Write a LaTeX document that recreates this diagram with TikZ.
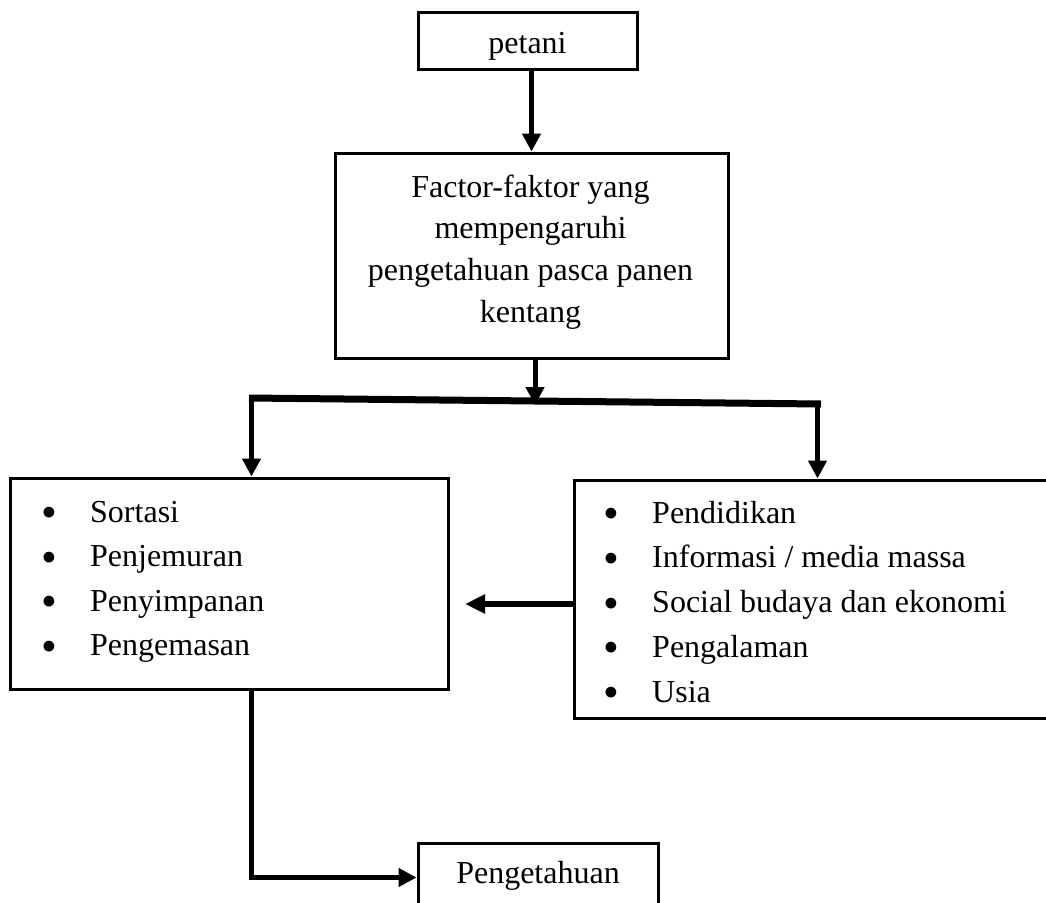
\documentclass[tikz,border=0pt]{standalone}
\usepackage{fontspec}
\setmainfont{Liberation Serif}
\usetikzlibrary{arrows.meta}
\newcommand{\bulletmark}{\llap{\raisebox{-5.5pt}{\fontsize{45}{45}\selectfont •}\hspace{33pt}}}
\begin{document}
\begin{tikzpicture}[x=1pt,y=-1pt,
  box/.style={draw, line width=3pt, inner sep=0pt, font=\fontsize{32}{40}\selectfont},
  txt/.style={inner sep=0pt, font=\fontsize{32}{40}\selectfont},
  item/.style={txt, anchor=base west},
  arr/.style={line width=5pt, -{Triangle[width=18pt,length=18pt]}},
  conn/.style={line width=5pt},
]
\useasboundingbox (0,0) rectangle (1046,902);
\fill[white] (0,0) rectangle (1046,902);

% boxes
\node[box, minimum width=219pt, minimum height=57pt, text height=26pt, text depth=1pt] (petani) at (527.5,40.5) {petani};
\node[box, minimum width=393pt, minimum height=205pt] (factor) at (531.5,255.5) {};
\foreach \t [count=\i] in {Factor-faktor yang, mempengaruhi, pengetahuan pasca panen, kentang}
  \node[txt, anchor=base] (f\i) at (530.5,{197+(\i-1)*41.7}) {\t};

\node[box, minimum width=438pt, minimum height=211pt] (left) at (229,583.5) {};
\foreach \t [count=\i] in {Sortasi, Penjemuran, Penyimpanan, Pengemasan}
  \node[item] (l\i) at (90,{522+(\i-1)*44.5}) {\bulletmark\t};

\node[box, minimum width=478pt, minimum height=238pt] (right) at (813,599) {};
\foreach \t [count=\i] in {Pendidikan, Informasi / media massa, Social budaya dan ekonomi, Pengalaman, Usia}
  \node[item] (r\i) at (652,{523+(\i-1)*44.75}) {\bulletmark\t};

\node[box, minimum width=240pt, minimum height=69pt, text height=21pt, text depth=10pt] (peng) at (538,877.5) {Pengetahuan};

% helper coordinates
\coordinate (barL) at (249,398);
\coordinate (barR) at (821,404);
\coordinate (barM) at (535,405);
\coordinate (dropL) at (251.5,398);
\coordinate (dropR) at (817.5,404);
\coordinate (hm) at (465,604);

% connectors
\draw[arr] (petani.south -| factor.north) -- (factor.north);
\draw[arr] (factor.south -| barM) -- (barM);
\draw[line width=7pt] (barL) -- (barR);
\draw[arr] (dropL) -- (dropL |- left.north);
\draw[arr] (dropR) -- (dropR |- right.north);
\draw[line width=6pt, -{Triangle[width=18pt,length=20pt]}] (right.west |- hm) -- (hm);
\draw[arr] (dropL |- left.south) |- (peng.west);
\end{tikzpicture}
\end{document}
